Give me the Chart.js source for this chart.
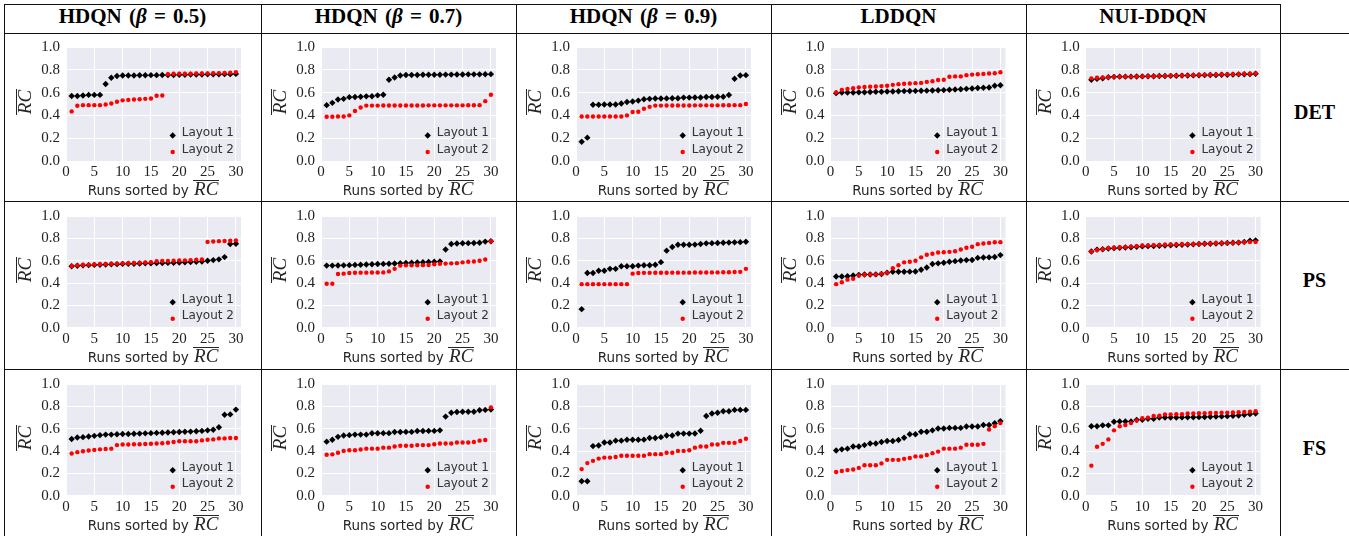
<!DOCTYPE html>
<html>
<head>
<meta charset="utf-8">
<script src="https://cdn.jsdelivr.net/npm/chart.js@4/dist/chart.umd.min.js"></script>
<style>
  body { margin: 0; background: #fff; width: 1349px; height: 536px; overflow: hidden; position: relative; }
  .line { position: absolute; background: #111; z-index: 5; }
  .head { position: absolute; top: 4px; height: 29px; line-height: 30px; text-align: center;
          font: bold 21px 'Liberation Serif', serif; color: #000; white-space: nowrap; word-spacing: 2px; }
  .rowlab { position: absolute; width: 69px; text-align: center; font: bold 20px 'Liberation Serif', serif; color: #000; }
  .xt { position: absolute; width: 175px; text-align: center; font: 13.5px 'DejaVu Sans', sans-serif;
        color: #262626; white-space: nowrap; line-height: 20px; }
  .rc { display: inline-block; font-family: 'Liberation Serif', serif; font-style: italic; font-size: 19px;
        line-height: 13px; border-top: 1px solid #262626; padding: 1px 1px 0 1px; }
  .yt { position: absolute; width: 40px; height: 24px; line-height: 24px; text-align: center;
        transform: rotate(-90deg); color: #262626; }
  canvas { position: absolute; }
</style>
</head>
<body>
<script>
// categories
const methods = ['HDQN (<i>β</i> = 0.5)', 'HDQN (<i>β</i> = 0.7)', 'HDQN (<i>β</i> = 0.9)', 'LDDQN', 'NUI-DDQN'];
const settings = ['DET', 'PS', 'FS'];
const runs = [1,2,3,4,5,6,7,8,9,10,11,12,13,14,15,16,17,18,19,20,21,22,23,24,25,26,27,28,29,30];
const xTicks = [0, 5, 10, 15, 20, 25, 30];
const yTicks = [0, 0.2, 0.4, 0.6, 0.8, 1.0];

// DET
const det_h05_l1 = [0.57,0.57,0.575,0.58,0.58,0.58,0.675,0.73,0.745,0.75,0.75,0.75,0.752,0.752,0.753,0.753,0.754,0.755,0.755,0.756,0.757,0.758,0.758,0.759,0.76,0.76,0.761,0.762,0.762,0.764];
const det_h05_l2 = [0.435,0.485,0.49,0.49,0.49,0.49,0.495,0.505,0.52,0.532,0.536,0.54,0.542,0.545,0.548,0.573,0.575,0.762,0.765,0.765,0.766,0.766,0.767,0.768,0.769,0.77,0.771,0.772,0.775,0.78];
const det_h07_l1 = [0.49,0.51,0.54,0.545,0.56,0.562,0.563,0.567,0.568,0.576,0.581,0.713,0.733,0.75,0.755,0.755,0.755,0.756,0.756,0.757,0.757,0.758,0.758,0.759,0.759,0.76,0.76,0.76,0.761,0.762];
const det_h07_l2 = [0.388,0.388,0.39,0.39,0.4,0.438,0.469,0.486,0.486,0.486,0.487,0.487,0.487,0.487,0.487,0.487,0.487,0.487,0.488,0.488,0.488,0.488,0.488,0.488,0.488,0.489,0.489,0.49,0.525,0.581];
const det_h09_l1 = [0.169,0.205,0.494,0.494,0.495,0.495,0.496,0.505,0.517,0.522,0.53,0.542,0.545,0.548,0.548,0.549,0.55,0.55,0.556,0.556,0.557,0.557,0.562,0.562,0.563,0.563,0.579,0.722,0.75,0.753];
const det_h09_l2 = [0.39,0.39,0.39,0.39,0.39,0.39,0.39,0.39,0.4,0.43,0.432,0.458,0.475,0.486,0.486,0.487,0.487,0.487,0.487,0.487,0.488,0.488,0.488,0.488,0.488,0.489,0.489,0.49,0.49,0.5];
const det_ld_l1 = [0.595,0.6,0.6,0.6,0.602,0.603,0.605,0.607,0.608,0.61,0.61,0.612,0.613,0.614,0.615,0.616,0.617,0.618,0.62,0.622,0.625,0.627,0.63,0.633,0.636,0.64,0.642,0.645,0.66,0.665];
const det_ld_l2 = [0.601,0.624,0.632,0.638,0.646,0.649,0.652,0.654,0.657,0.66,0.668,0.674,0.677,0.68,0.683,0.685,0.694,0.7,0.71,0.713,0.739,0.742,0.742,0.753,0.758,0.761,0.764,0.767,0.77,0.778];
const det_nui_l1 = [0.712,0.72,0.725,0.735,0.738,0.74,0.74,0.74,0.741,0.742,0.743,0.744,0.745,0.746,0.747,0.748,0.749,0.75,0.751,0.752,0.753,0.754,0.755,0.756,0.757,0.758,0.76,0.761,0.762,0.765];
const det_nui_l2 = [0.725,0.73,0.733,0.736,0.738,0.739,0.74,0.74,0.741,0.742,0.743,0.744,0.745,0.747,0.748,0.749,0.75,0.751,0.753,0.755,0.756,0.757,0.758,0.759,0.76,0.761,0.763,0.765,0.766,0.768];

// PS
const ps_h05_l1 = [0.55,0.555,0.558,0.56,0.562,0.563,0.565,0.567,0.569,0.571,0.572,0.573,0.575,0.576,0.577,0.578,0.579,0.58,0.582,0.584,0.586,0.588,0.59,0.592,0.6,0.605,0.612,0.632,0.75,0.752];
const ps_h05_l2 = [0.553,0.558,0.561,0.564,0.566,0.568,0.57,0.572,0.574,0.576,0.578,0.58,0.582,0.584,0.587,0.595,0.597,0.598,0.6,0.601,0.603,0.605,0.608,0.61,0.768,0.772,0.775,0.776,0.778,0.782];
const ps_h07_l1 = [0.556,0.556,0.557,0.558,0.56,0.562,0.564,0.566,0.568,0.57,0.571,0.573,0.575,0.578,0.58,0.582,0.584,0.586,0.588,0.59,0.593,0.7,0.75,0.754,0.756,0.757,0.758,0.76,0.771,0.774];
const ps_h07_l2 = [0.393,0.393,0.481,0.484,0.49,0.492,0.493,0.493,0.494,0.494,0.495,0.504,0.527,0.556,0.558,0.559,0.559,0.56,0.561,0.568,0.572,0.574,0.576,0.578,0.585,0.59,0.593,0.6,0.61,0.774];
const ps_h09_l1 = [0.166,0.49,0.49,0.51,0.51,0.527,0.527,0.55,0.55,0.55,0.556,0.559,0.559,0.564,0.587,0.69,0.722,0.742,0.742,0.743,0.744,0.75,0.755,0.757,0.758,0.76,0.762,0.764,0.766,0.77];
const ps_h09_l2 = [0.39,0.39,0.39,0.39,0.39,0.39,0.39,0.39,0.39,0.484,0.49,0.491,0.491,0.492,0.492,0.492,0.493,0.493,0.493,0.493,0.494,0.494,0.494,0.495,0.495,0.496,0.497,0.498,0.5,0.527];
const ps_ld_l1 = [0.458,0.458,0.461,0.467,0.473,0.476,0.476,0.477,0.481,0.493,0.5,0.501,0.501,0.502,0.503,0.519,0.539,0.57,0.576,0.582,0.59,0.596,0.602,0.605,0.606,0.625,0.628,0.63,0.633,0.65];
const ps_ld_l2 = [0.39,0.407,0.43,0.438,0.467,0.474,0.476,0.477,0.484,0.493,0.533,0.559,0.585,0.59,0.6,0.63,0.653,0.662,0.673,0.676,0.679,0.685,0.7,0.716,0.725,0.748,0.754,0.759,0.765,0.766];
const ps_nui_l1 = [0.682,0.699,0.702,0.708,0.712,0.715,0.718,0.72,0.724,0.728,0.73,0.732,0.734,0.736,0.738,0.74,0.742,0.744,0.746,0.75,0.751,0.752,0.754,0.756,0.758,0.76,0.762,0.768,0.779,0.782];
const ps_nui_l2 = [0.682,0.696,0.702,0.713,0.716,0.72,0.723,0.726,0.73,0.736,0.737,0.739,0.741,0.743,0.745,0.746,0.747,0.748,0.749,0.75,0.752,0.754,0.756,0.758,0.759,0.761,0.763,0.765,0.767,0.768];

// FS
const fs_h05_l1 = [0.507,0.521,0.524,0.53,0.536,0.542,0.547,0.547,0.55,0.552,0.553,0.555,0.556,0.558,0.56,0.562,0.564,0.566,0.568,0.57,0.572,0.574,0.577,0.58,0.585,0.59,0.613,0.725,0.728,0.771];
const fs_h05_l2 = [0.378,0.39,0.398,0.404,0.41,0.415,0.418,0.421,0.453,0.458,0.458,0.46,0.461,0.463,0.465,0.467,0.47,0.474,0.481,0.487,0.487,0.488,0.488,0.495,0.501,0.504,0.513,0.513,0.516,0.516];
const fs_h07_l1 = [0.484,0.501,0.527,0.539,0.542,0.547,0.547,0.547,0.559,0.559,0.56,0.56,0.57,0.57,0.571,0.571,0.579,0.579,0.58,0.58,0.585,0.708,0.742,0.75,0.751,0.751,0.752,0.765,0.768,0.771];
const fs_h07_l2 = [0.367,0.37,0.384,0.401,0.407,0.407,0.413,0.421,0.421,0.421,0.43,0.43,0.441,0.447,0.447,0.447,0.453,0.453,0.453,0.461,0.467,0.467,0.467,0.476,0.476,0.476,0.481,0.493,0.499,0.791];
const fs_h09_l1 = [0.129,0.129,0.444,0.45,0.476,0.476,0.493,0.493,0.501,0.501,0.501,0.502,0.516,0.516,0.524,0.539,0.539,0.556,0.556,0.556,0.557,0.582,0.713,0.736,0.742,0.756,0.756,0.768,0.768,0.768];
const fs_h09_l2 = [0.238,0.292,0.312,0.332,0.341,0.341,0.347,0.358,0.358,0.358,0.358,0.358,0.372,0.372,0.372,0.384,0.384,0.401,0.401,0.407,0.43,0.441,0.441,0.458,0.458,0.473,0.473,0.473,0.49,0.51];
const fs_ld_l1 = [0.404,0.415,0.421,0.441,0.441,0.453,0.467,0.467,0.481,0.49,0.49,0.499,0.519,0.55,0.55,0.573,0.573,0.585,0.602,0.602,0.607,0.607,0.607,0.619,0.619,0.619,0.633,0.633,0.648,0.668];
const fs_ld_l2 = [0.212,0.221,0.229,0.235,0.249,0.272,0.272,0.272,0.289,0.321,0.321,0.321,0.33,0.338,0.352,0.352,0.364,0.381,0.395,0.421,0.421,0.421,0.43,0.456,0.456,0.456,0.464,0.593,0.622,0.65];
const fs_nui_l1 = [0.622,0.622,0.63,0.63,0.662,0.665,0.665,0.665,0.679,0.679,0.688,0.688,0.7,0.7,0.7,0.7,0.701,0.702,0.702,0.703,0.704,0.706,0.708,0.71,0.712,0.715,0.718,0.725,0.73,0.736];
const fs_nui_l2 = [0.269,0.438,0.464,0.504,0.585,0.622,0.633,0.65,0.673,0.693,0.699,0.713,0.716,0.728,0.728,0.729,0.73,0.736,0.737,0.738,0.739,0.74,0.741,0.742,0.744,0.745,0.747,0.75,0.753,0.756];

const grid = [
  [[det_h05_l1, det_h05_l2], [det_h07_l1, det_h07_l2], [det_h09_l1, det_h09_l2], [det_ld_l1, det_ld_l2], [det_nui_l1, det_nui_l2]],
  [[ps_h05_l1, ps_h05_l2], [ps_h07_l1, ps_h07_l2], [ps_h09_l1, ps_h09_l2], [ps_ld_l1, ps_ld_l2], [ps_nui_l1, ps_nui_l2]],
  [[fs_h05_l1, fs_h05_l2], [fs_h07_l1, fs_h07_l2], [fs_h09_l1, fs_h09_l2], [fs_ld_l1, fs_ld_l2], [fs_nui_l1, fs_nui_l2]]
];

// page geometry
const colLines = [4, 261, 516, 771, 1026, 1280];
const rowLines = [33, 201, 369];
const plotLeft = [66, 321, 576, 830.5, 1085.7];
const plotTop = [42.3, 211.3, 379.3];
const plotBottom = [161, 327.7, 495.7];
const PW = 175;

function addLine(x, y, w, h) {
  const d = document.createElement('div');
  d.className = 'line';
  d.style.cssText = `left:${x}px;top:${y}px;width:${w}px;height:${h}px`;
  document.body.appendChild(d);
}
addLine(4, 4, 1277, 1);
rowLines.forEach(y => addLine(4, y, 1345, 1));
colLines.forEach(x => addLine(x, 4, 1, 532));

methods.forEach((m, i) => {
  const d = document.createElement('div');
  d.className = 'head';
  d.style.left = colLines[i] + 'px';
  d.style.width = (colLines[i + 1] - colLines[i]) + 'px';
  d.innerHTML = m;
  document.body.appendChild(d);
});

settings.forEach((s, r) => {
  const d = document.createElement('div');
  d.className = 'rowlab';
  d.style.left = '1280px';
  d.style.top = ((plotTop[r] + plotBottom[r]) / 2 + 10.3 - 12) + 'px';
  d.style.lineHeight = '24px';
  d.textContent = s;
  document.body.appendChild(d);
});

const bgPlugin = {
  id: 'bg',
  beforeDraw(chart) {
    const { ctx, chartArea: a } = chart;
    ctx.save();
    ctx.fillStyle = '#EAEAF2';
    ctx.fillRect(a.left, a.top, a.right - a.left, a.bottom - a.top);
    ctx.restore();
  }
};

const legendPlugin = {
  id: 'legendBox',
  afterDraw(chart) {
    const { ctx, chartArea: a } = chart;
    const mx = a.right - 68.3;
    ctx.save();
    ctx.fillStyle = '#000';
    const y1 = a.bottom - 25.5, r = 3.2;
    ctx.beginPath();
    ctx.moveTo(mx, y1 - r); ctx.lineTo(mx + r, y1); ctx.lineTo(mx, y1 + r); ctx.lineTo(mx - r, y1);
    ctx.closePath(); ctx.fill();
    ctx.fillStyle = '#f00';
    ctx.beginPath();
    ctx.arc(mx, a.bottom - 9, 2.2, 0, Math.PI * 2);
    ctx.fill();
    ctx.font = '12px "DejaVu Sans"';
    ctx.fillStyle = '#333';
    ctx.textBaseline = 'middle';
    ctx.textAlign = 'left';
    ctx.fillText('Layout 1', a.right - 59.3, a.bottom - 28);
    ctx.fillText('Layout 2', a.right - 59.3, a.bottom - 11.5);
    ctx.restore();
  }
};

const tickFont = { family: "'Liberation Serif', serif", size: 15 };

grid.forEach((row, r) => {
  row.forEach(([l1, l2], c) => {
    const pl = plotLeft[c], pt = plotTop[r], pb = plotBottom[r];
    const cl = Math.round(pl - 62), ct = Math.round(pt - 10);
    const W = 255, H = Math.ceil(pb - ct + 40);
    const cv = document.createElement('canvas');
    cv.width = W; cv.height = H;
    cv.style.cssText = `left:${cl}px;top:${ct}px;width:${W}px;height:${H}px`;
    document.body.appendChild(cv);

    new Chart(cv, {
      type: 'scatter',
      data: {
        datasets: [
          { label: 'Layout 1', data: runs.map((x, i) => ({ x, y: l1[i] })), pointStyle: 'rectRot',
            pointRadius: 3.2, backgroundColor: '#000', borderWidth: 0, order: 2 },
          { label: 'Layout 2', data: runs.map((x, i) => ({ x, y: l2[i] })), pointStyle: 'circle',
            pointRadius: 2.2, backgroundColor: '#f00', borderWidth: 0, order: 1 }
        ]
      },
      options: {
        responsive: false,
        animation: false,
        events: [],
        layout: { padding: { left: 0, top: pt - ct, right: W - (pl - cl) - PW, bottom: 0 } },
        plugins: { legend: { display: false }, tooltip: { enabled: false } },
        scales: {
          x: {
            type: 'linear', min: 0, max: 30.9,
            grid: { color: '#fff', lineWidth: 1, drawTicks: false },
            border: { display: false },
            ticks: { font: tickFont, color: '#222', padding: 2, maxRotation: 0, autoSkip: false },
            afterBuildTicks: s => { s.ticks = xTicks.map(v => ({ value: v })); },
            afterFit: s => { s.height = H - (pb - ct); }
          },
          y: {
            min: 0, max: 1,
            grid: { color: '#fff', lineWidth: 1, drawTicks: false },
            border: { display: false },
            ticks: { font: tickFont, color: '#222', padding: 6, autoSkip: false,
                     callback: v => Number(v).toFixed(1) },
            afterBuildTicks: s => { s.ticks = yTicks.map(v => ({ value: v })); },
            afterFit: s => { s.width = pl - cl; }
          }
        }
      },
      plugins: [bgPlugin, legendPlugin]
    });

    const xt = document.createElement('div');
    xt.className = 'xt';
    xt.style.left = pl + 'px';
    xt.style.top = (pb + 28.3 - 9) + 'px';
    xt.innerHTML = 'Runs sorted by <span class="rc">RC</span>';
    document.body.appendChild(xt);

    const yt = document.createElement('div');
    yt.className = 'yt';
    yt.style.left = (pl - 40 - 20) + 'px';
    yt.style.top = ((pt + pb) / 2 - 12) + 'px';
    yt.innerHTML = '<span class="rc">RC</span>';
    document.body.appendChild(yt);
  });
});
</script>
</body>
</html>
